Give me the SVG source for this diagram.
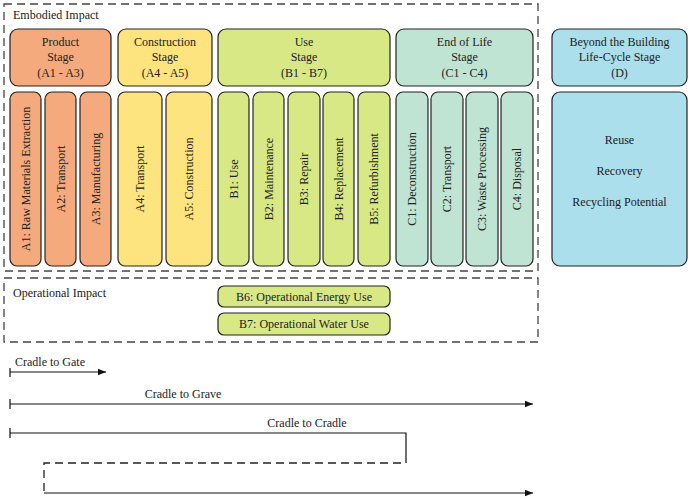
<svg xmlns="http://www.w3.org/2000/svg" width="694" height="500" viewBox="0 0 694 500" font-family="'Liberation Serif','Times New Roman',serif">
<defs>
<style>
text{font-family:'Liberation Serif','Times New Roman',serif;font-size:12px;fill:#222}
.b{stroke:#222;stroke-width:1.2}
.p{fill:#f4aa7c}.c{fill:#fde47e}.u{fill:#d8e885}.e{fill:#c0e4d3}.d{fill:#abdfeb}
.dash{fill:none;stroke:#444;stroke-width:1.3;stroke-dasharray:8,5}
.ln{fill:none;stroke:#111;stroke-width:1.2}
</style>
<marker id="ar" viewBox="0 0 10 10" refX="10" refY="5" markerWidth="12" markerHeight="8" markerUnits="userSpaceOnUse" orient="auto"><path d="M0,1L10,5L0,9z" fill="#111"/></marker>
</defs>
<rect width="694" height="500" fill="#fff"/>
<rect class="dash" x="4" y="4" width="534" height="267"/>
<text x="13" y="19">Embodied Impact</text>
<rect class="dash" x="4" y="278" width="534" height="64"/>
<text x="13" y="297">Operational Impact</text>

<g id="product"><rect class="b p" x="10" y="29" width="101" height="57" rx="8"/><text text-anchor="middle" x="60.5" y="46">Product</text><text text-anchor="middle" x="60.5" y="61">Stage</text><text text-anchor="middle" x="60.5" y="77">(A1 - A3)</text></g>
<g id="construction"><rect class="b c" x="118" y="29" width="94" height="57" rx="8"/><text text-anchor="middle" x="165" y="46">Construction</text><text text-anchor="middle" x="165" y="61">Stage</text><text text-anchor="middle" x="165" y="77">(A4 - A5)</text></g>
<g id="use"><rect class="b u" x="218" y="29" width="172" height="57" rx="8"/><text text-anchor="middle" x="304" y="46">Use</text><text text-anchor="middle" x="304" y="61">Stage</text><text text-anchor="middle" x="304" y="77">(B1 - B7)</text></g>
<g id="eol"><rect class="b e" x="396" y="29" width="137" height="57" rx="8"/><text text-anchor="middle" x="464.5" y="46">End of Life</text><text text-anchor="middle" x="464.5" y="61">Stage</text><text text-anchor="middle" x="464.5" y="77">(C1 - C4)</text></g>
<g id="beyond"><rect class="b d" x="552" y="29" width="135" height="57" rx="8"/><text text-anchor="middle" x="619.5" y="46">Beyond the Building</text><text text-anchor="middle" x="619.5" y="61">Life-Cycle Stage</text><text text-anchor="middle" x="619.5" y="77">(D)</text></g>
<g id="d-detail"><rect class="b d" x="552" y="92" width="135" height="174" rx="8"/><text text-anchor="middle" x="619.5" y="144">Reuse</text><text text-anchor="middle" x="619.5" y="175">Recovery</text><text text-anchor="middle" x="619.5" y="206">Recycling Potential</text></g>

<g id="a1"><rect class="b p" x="10" y="92" width="31" height="174" rx="7"/><text text-anchor="middle" transform="translate(30,179) rotate(-90)">A1: Raw Materials Extraction</text></g>
<g id="a2"><rect class="b p" x="45" y="92" width="31" height="174" rx="7"/><text text-anchor="middle" transform="translate(65,179) rotate(-90)">A2: Transport</text></g>
<g id="a3"><rect class="b p" x="80" y="92" width="31" height="174" rx="7"/><text text-anchor="middle" transform="translate(100,179) rotate(-90)">A3: Manufacturing</text></g>
<g id="a4"><rect class="b c" x="118" y="92" width="44" height="174" rx="7"/><text text-anchor="middle" transform="translate(144,179) rotate(-90)">A4: Transport</text></g>
<g id="a5"><rect class="b c" x="166" y="92" width="46" height="174" rx="7"/><text text-anchor="middle" transform="translate(193,179) rotate(-90)">A5: Construction</text></g>
<g id="b1"><rect class="b u" x="218" y="92" width="31" height="174" rx="7"/><text text-anchor="middle" transform="translate(238,179) rotate(-90)">B1: Use</text></g>
<g id="b2"><rect class="b u" x="253" y="92" width="31" height="174" rx="7"/><text text-anchor="middle" transform="translate(273,179) rotate(-90)">B2: Maintenance</text></g>
<g id="b3"><rect class="b u" x="288" y="92" width="32" height="174" rx="7"/><text text-anchor="middle" transform="translate(308,179) rotate(-90)">B3: Repair</text></g>
<g id="b4"><rect class="b u" x="323" y="92" width="31" height="174" rx="7"/><text text-anchor="middle" transform="translate(343,179) rotate(-90)">B4: Replacement</text></g>
<g id="b5"><rect class="b u" x="358" y="92" width="32" height="174" rx="7"/><text text-anchor="middle" transform="translate(378,179) rotate(-90)">B5: Refurbishment</text></g>
<g id="c1"><rect class="b e" x="396" y="92" width="32" height="174" rx="7"/><text text-anchor="middle" transform="translate(416,179) rotate(-90)">C1: Deconstruction</text></g>
<g id="c2"><rect class="b e" x="431" y="92" width="32" height="174" rx="7"/><text text-anchor="middle" transform="translate(451,179) rotate(-90)">C2: Transport</text></g>
<g id="c3"><rect class="b e" x="466" y="92" width="32" height="174" rx="7"/><text text-anchor="middle" transform="translate(486,179) rotate(-90)">C3: Waste Processing</text></g>
<g id="c4"><rect class="b e" x="501" y="92" width="32" height="174" rx="7"/><text text-anchor="middle" transform="translate(521,179) rotate(-90)">C4: Disposal</text></g>

<g id="b6"><rect class="b u" x="218" y="286" width="172" height="21" rx="6"/><text text-anchor="middle" x="304" y="301">B6: Operational Energy Use</text></g>
<g id="b7"><rect class="b u" x="218" y="313" width="172" height="22" rx="6"/><text text-anchor="middle" x="304" y="328">B7: Operational Water Use</text></g>

<g id="connectors">
<path class="ln" d="M10,368V377M10,372H106" marker-end="url(#ar)"/>
<path class="ln" d="M10,399V409M10,404H533" marker-end="url(#ar)"/>
<path class="ln" d="M10,428V438M10,433H406V455"/>
<path class="dash" d="M406,455V463H44V492" style="stroke:#222"/>
<path class="ln" d="M44,493H533" marker-end="url(#ar)"/>
</g>
<text x="15" y="366">Cradle to Gate</text>
<text x="183" y="398" text-anchor="middle">Cradle to Grave</text>
<text x="307" y="427" text-anchor="middle">Cradle to Cradle</text>
</svg>
